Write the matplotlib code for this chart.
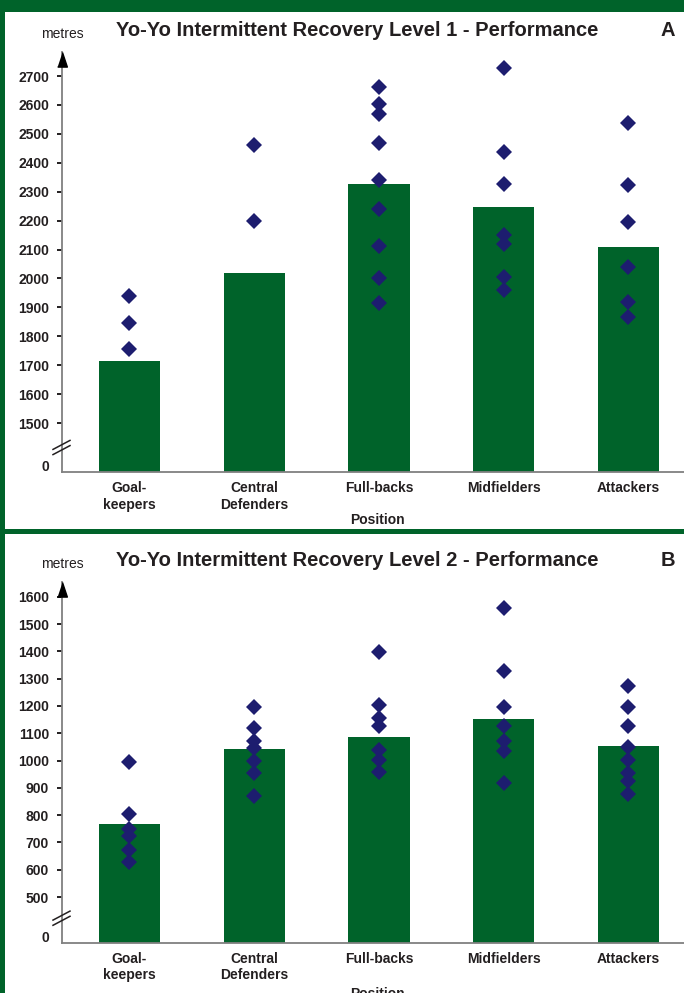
import numpy as np
import matplotlib
matplotlib.use("Agg")
import matplotlib.pyplot as plt
from matplotlib.patches import Rectangle
from matplotlib.lines import Line2D
from matplotlib.transforms import offset_copy

plt.rcParams['font.family'] = ['Liberation Sans', 'DejaVu Sans']

positions = ["Goal-\nkeepers", "Central\nDefenders", "Full-backs", "Midfielders", "Attackers"]

# Level 1 (metres)
l1_means = [1715, 2020, 2325, 2248, 2108]
l1_gk = [1940, 1845, 1755]
l1_cd = [2460, 2200]
l1_fb = [2662, 2602, 2567, 2467, 2340, 2239, 2111, 2000, 1916]
l1_mf = [2728, 2438, 2326, 2150, 2120, 2004, 1960]
l1_at = [2536, 2324, 2196, 2040, 1918, 1868]
l1_ticks = [1500, 1600, 1700, 1800, 1900, 2000, 2100, 2200, 2300, 2400, 2500, 2600, 2700]

# Level 2 (metres)
l2_means = [767, 1044, 1088, 1154, 1055]
l2_gk = [996, 804, 751, 724, 671, 629]
l2_cd = [1197, 1120, 1072, 1046, 1000, 953, 871]
l2_fb = [1398, 1203, 1157, 1126, 1039, 1002, 959]
l2_mf = [1557, 1328, 1197, 1126, 1073, 1036, 919]
l2_at = [1274, 1197, 1126, 1051, 1002, 954, 926, 878]
l2_ticks = [500, 600, 700, 800, 900, 1000, 1100, 1200, 1300, 1400, 1500, 1600]

GREEN = '#00632a'
NAVY = '#1d1d6f'
TEXT = '#231f20'
AXIS = '#808080'

W, H = 684, 993


def fx(p):
    return p / W


def fy(p):
    return 1 - p / H


def broken_scale(brk, gap):
    # squeeze 0..brk into a short stretch of `gap` units below the break
    s = gap / brk

    def fwd(v):
        v = np.asarray(v, dtype=float)
        return np.where(v >= brk, v, brk - gap + v * s)

    def inv(t):
        t = np.asarray(t, dtype=float)
        return np.where(t >= brk, t, (t - (brk - gap)) / s)

    return fwd, inv


def draw_panel(fig, top_px, base_px, title, letter, means, groups, ticks, brk, gap, ytop, label_y):
    ax = fig.add_axes([fx(62), fy(base_px), (W - 62) / W, (base_px - top_px) / H])
    ax.patch.set_alpha(0)
    ax.set_yscale('function', functions=broken_scale(brk, gap))

    x = np.arange(len(means))
    ax.bar(x, means, width=0.49, color=GREEN, zorder=2)
    for i, vals in enumerate(groups):
        ax.plot([x[i]] * len(vals), vals, linestyle='none', marker='D', markersize=7.8,
                color=NAVY, markeredgewidth=0, zorder=3)

    ax.set_xlim(-0.541, 4.445)
    ax.set_ylim(0, ytop)

    for side in ['top', 'right']:
        ax.spines[side].set_visible(False)
    for side in ['left', 'bottom']:
        ax.spines[side].set_color(AXIS)
        ax.spines[side].set_linewidth(1.3)

    ax.set_yticks(ticks)
    ax.set_yticklabels([str(t) for t in ticks])
    ax.yaxis.set_minor_locator(matplotlib.ticker.NullLocator())
    ax.tick_params(axis='y', length=3.8, width=1.4, color=TEXT, pad=5.5,
                   labelsize=10, labelcolor=TEXT)
    for lab in ax.get_yticklabels():
        lab.set_fontweight('bold')
    zero_tr = offset_copy(ax.get_yaxis_transform(), fig=fig, y=-2, units='dots')
    ax.text(-0.021, 0, "0", transform=zero_tr, ha='right', va='bottom',
            fontsize=10, fontweight='bold', color=TEXT)

    ax.set_xticks(x)
    ax.set_xticklabels(positions, fontsize=10, fontweight='bold', color=TEXT, linespacing=1.25)
    ax.tick_params(axis='x', length=0, pad=6.5)

    # arrow head on the y axis
    ax.plot([0], [1], transform=ax.transAxes, marker=[(-1 / 3, -1), (1 / 3, -1), (0, 0)],
            markersize=21, color='black', clip_on=False, zorder=5)

    # break marks
    yb = base_px - 24.5
    for off in (-2.6, 2.6):
        fig.add_artist(Line2D([fx(53), fx(70)], [fy(yb + off + 4.5), fy(yb + off - 4.5)],
                              color=TEXT, linewidth=1.1, zorder=5))

    fig.text(fx(357.5), fy(top_px - 22), title, ha='center', va='center',
             fontsize=14.5, fontweight='bold', color=TEXT)
    fig.text(fx(667.5), fy(top_px - 22), letter, ha='center', va='center',
             fontsize=14.5, fontweight='bold', color=TEXT)
    fig.text(fx(62), fy(top_px - 17.5), "metres", ha='center', va='center',
             fontsize=10, color=TEXT)
    fig.text(fx(377), fy(label_y), "Position", ha='center', va='center',
             fontsize=10, fontweight='bold', color=TEXT)
    return ax


fig = plt.figure(figsize=(W / 100, H / 100), dpi=100)
fig.patch.set_facecolor(GREEN)
fig.add_artist(Rectangle((fx(5), fy(529)), (W - 5) / W, (529 - 12) / H,
                         transform=fig.transFigure, facecolor='white', edgecolor='none',
                         zorder=-10))
fig.add_artist(Rectangle((fx(5), 0), (W - 5) / W, (H - 534) / H,
                         transform=fig.transFigure, facecolor='white', edgecolor='none',
                         zorder=-10))

draw_panel(fig, 52, 472, "Yo-Yo Intermittent Recovery Level 1 - Performance", "A",
           l1_means, [l1_gk, l1_cd, l1_fb, l1_mf, l1_at], l1_ticks,
           1500, 169, 2783, 520)
draw_panel(fig, 582, 942.7, "Yo-Yo Intermittent Recovery Level 2 - Performance", "B",
           l2_means, [l2_gk, l2_cd, l2_fb, l2_mf, l2_at], l2_ticks,
           500, 167, 1654, 994)

fig.savefig("out.png", dpi=100, facecolor=fig.get_facecolor())
